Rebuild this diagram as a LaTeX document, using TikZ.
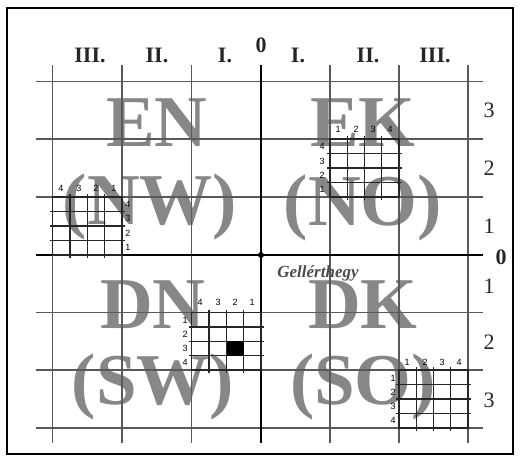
\documentclass[tikz,border=0pt]{standalone}
\usepackage{fontspec}
\setmainfont{Liberation Serif}
\newfontfamily\sansf{Liberation Sans}
\definecolor{biggray}{gray}{0.53}
\definecolor{linegray}{gray}{0.35}
\definecolor{gelgray}{gray}{0.3}
\tikzset{
  big/.style={text=biggray, font=\fontsize{73}{73}\selectfont\bfseries, inner sep=0pt},
  gridline/.style={draw=linegray, line width=1.5pt},
  axis/.style={draw=black, line width=2.6pt},
  subline/.style={draw=black!85, line width=1.4pt},
  small/.style={font=\sansf\fontsize{9}{9}\selectfont, inner sep=0pt},
  toplab/.style={font=\fontsize{22}{22}\selectfont\bfseries, inner sep=0pt, text=black!85},
  sidelab/.style={font=\fontsize{22}{22}\selectfont, inner sep=0pt, text=black!85}
}
\newcommand{\subgrid}[4]{% x0 x1 y0 y1
  \foreach \i in {1,2,3}{
    \pgfmathsetmacro{\xx}{#1+\i*(#2-#1)/4}
    \pgfmathsetmacro{\yy}{#3+\i*(#4-#3)/4}
    \draw[subline] (\xx,#3-3) -- (\xx,#4+3);
    \draw[subline] (#1-3,\yy) -- (#2+3,\yy);
  }
  \draw[subline] (#1,#3) rectangle (#2,#4);
}
\begin{document}
\begin{tikzpicture}[x=1pt,y=-1pt]
\useasboundingbox (0,0) rectangle (521,463);
\fill[white] (0,0) rectangle (521,463);
\draw[line width=1.2pt] (7,8) rectangle (513,454);

% big letters
\node[big] (en) at (157,123) {EN};
\node[big] (nw) at (150,207) {(NW)};
\node[big] (ek) at (363,123) {EK};
\node[big] (no) at (363,208) {(NO)};
\node[big] (dn) at (153,305) {DN};
\node[big] (sw) at (153,387) {(SW)};
\node[big] (dk) at (363,305) {DK};
\node[big] (so) at (363,387) {(SO)};

% main grid
\foreach \x in {52.5,122,191.5,330,399,468}
  \draw[gridline] (\x,65) -- (\x,443);
\foreach \y in {81.5,139,197,312.5,370,428}
  \draw[gridline] (36,\y) -- (483,\y);
\draw[axis] (261,65) -- (261,443);
\draw[axis] (36,255) -- (483,255);
\fill (261,255) circle (3pt);

% sub grids
\subgrid{52.5}{122}{197}{255}
\subgrid{330}{399}{139}{197}
\subgrid{191.5}{261}{312.5}{370}
\subgrid{399}{468}{370}{428}
\fill[black] (227,341) rectangle (244,356);

% small labels NW
\node[small] (nwt4) at (61,188) {4};
\node[small] (nwt3) at (79,188) {3};
\node[small] (nwt2) at (96,188) {2};
\node[small] (nwt1) at (114,188) {1};
\node[small] (nwr4) at (128,204) {4};
\node[small] (nwr3) at (128,218) {3};
\node[small] (nwr2) at (128,233) {2};
\node[small] (nwr1) at (128,247) {1};
% NE
\node[small] (net1) at (338,129) {1};
\node[small] (net2) at (356,129) {2};
\node[small] (net3) at (373,129) {3};
\node[small] (net4) at (390,129) {4};
\node[small] (nel4) at (322,146) {4};
\node[small] (nel3) at (322,161) {3};
\node[small] (nel2) at (322,175) {2};
\node[small] (nel1) at (322,189) {1};
% SW
\node[small] (swt4) at (200,302) {4};
\node[small] (swt3) at (218,302) {3};
\node[small] (swt2) at (235,302) {2};
\node[small] (swt1) at (252,302) {1};
\node[small] (swl1) at (185,320) {1};
\node[small] (swl2) at (185,334) {2};
\node[small] (swl3) at (185,348) {3};
\node[small] (swl4) at (185,362) {4};
% SE
\node[small] (set1) at (407,362) {1};
\node[small] (set2) at (425,362) {2};
\node[small] (set3) at (442,362) {3};
\node[small] (set4) at (459,362) {4};
\node[small] (sel1) at (393,378) {1};
\node[small] (sel2) at (393,392) {2};
\node[small] (sel3) at (393,406) {3};
\node[small] (sel4) at (393,420) {4};

% Gellerthegy
\node[font=\fontsize{17}{17}\selectfont\bfseries\itshape, text=gelgray, inner sep=0pt] (gel) at (318,273) {Gellérthegy};

% top labels
\node[toplab] (t3l) at (90,55) {III.};
\node[toplab] (t2l) at (157,55) {II.};
\node[toplab] (t1l) at (225,55) {I.};
\node[toplab] (t0) at (261,45) {0};
\node[toplab] (t1r) at (298,55) {I.};
\node[toplab] (t2r) at (368,55) {II.};
\node[toplab] (t3r) at (435,55) {III.};

% right labels
\node[sidelab] (r3u) at (489,110) {3};
\node[sidelab] (r2u) at (489,168) {2};
\node[sidelab] (r1u) at (489,226) {1};
\node[toplab] (r0) at (501,257) {0};
\node[sidelab] (r1d) at (489,286) {1};
\node[sidelab] (r2d) at (489,342) {2};
\node[sidelab] (r3d) at (489,400) {3};
\end{tikzpicture}
\end{document}
